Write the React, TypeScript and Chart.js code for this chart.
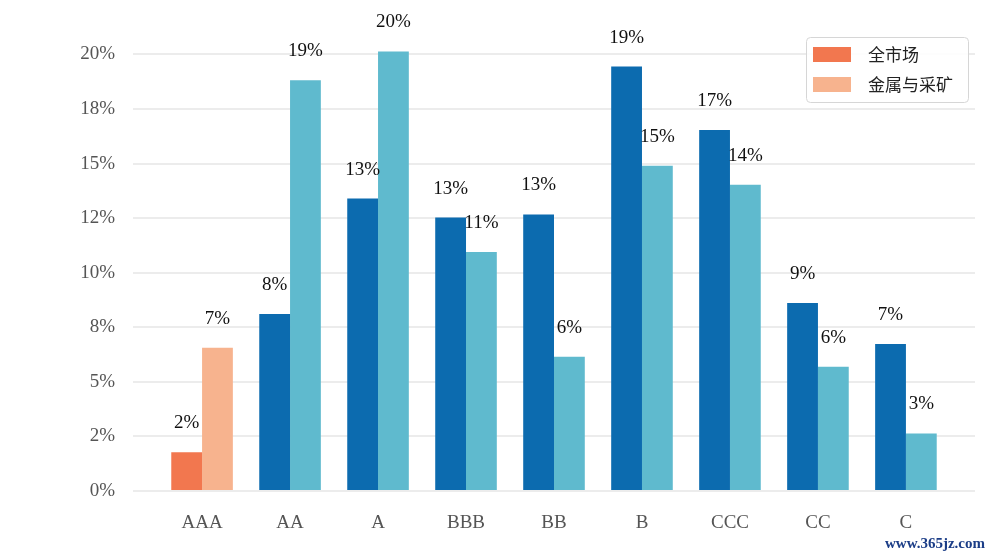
import React, { useEffect, useRef } from 'react';
import { Chart, registerables } from 'chart.js';

Chart.register(...registerables);

// Rating buckets and default rates (%) for the whole market vs. metals & mining
const categories = ['AAA', 'AA', 'A', 'BBB', 'BB', 'B', 'CCC', 'CC', 'C'];
const seriesNames = ['全市场', '金属与采矿'];
const marketValues = [1.78, 8.11, 13.4, 12.53, 12.67, 19.45, 16.54, 8.61, 6.74];
const miningValues = [6.56, 18.82, 20.14, 10.95, 6.15, 14.9, 14.03, 5.69, 2.64];
const yTickValues = [0, 2.5, 5, 7.5, 10, 12.5, 15, 17.5, 20];
const yTickLabels = ['0%', '2%', '5%', '8%', '10%', '12%', '15%', '18%', '20%'];
const watermark = 'www.365jz.com';

const MARKET_FIRST = '#f2774f';
const MARKET_REST = '#0c6baf';
const MINING_FIRST = '#f7b38e';
const MINING_REST = '#5fbace';
const SERIF = '"Liberation Serif", "Times New Roman", serif';
const CJK = '"Noto Sans CJK SC", "Noto Sans", sans-serif';

const colorsFor = (n: number, first: string, rest: string) =>
  Array.from({ length: n }, (_, i) => (i === 0 ? first : rest));

const valueLabels = {
  id: 'valueLabels',
  afterDatasetsDraw(chart: any) {
    const { ctx } = chart;
    ctx.save();
    ctx.font = `19px ${SERIF}`;
    ctx.fillStyle = '#111111';
    ctx.textAlign = 'center';
    ctx.textBaseline = 'alphabetic';
    chart.data.datasets.forEach((ds: any, di: number) => {
      const meta = chart.getDatasetMeta(di);
      meta.data.forEach((el: any, i: number) => {
        const v = ds.data[i].y;
        ctx.fillText(`${Math.round(v)}%`, el.x, el.y - 24);
      });
    });
    ctx.restore();
  },
};

const boxLegend = {
  id: 'boxLegend',
  afterDraw(chart: any) {
    const { ctx } = chart;
    const x = 806.5;
    const y = 37.5;
    const w = 162;
    const h = 65;
    ctx.save();
    ctx.beginPath();
    ctx.roundRect(x, y, w, h, 4);
    ctx.fillStyle = 'rgba(255,255,255,0.9)';
    ctx.fill();
    ctx.strokeStyle = '#d6d6d6';
    ctx.lineWidth = 1;
    ctx.stroke();
    ctx.font = `17px ${CJK}`;
    ctx.textBaseline = 'middle';
    ctx.textAlign = 'left';
    chart.data.datasets.forEach((ds: any, i: number) => {
      const rowY = 47 + i * 30;
      ctx.fillStyle = ds.backgroundColor[0];
      ctx.fillRect(813, rowY, 38, 15);
      ctx.fillStyle = '#222222';
      ctx.fillText(ds.label, 868, rowY + 8);
    });
    ctx.font = `bold 15px ${SERIF}`;
    ctx.fillStyle = '#1b3d87';
    ctx.textBaseline = 'alphabetic';
    ctx.fillText(watermark, 885, 548, 115);
    ctx.restore();
  },
};

export default function App() {
  const canvasRef = useRef<HTMLCanvasElement | null>(null);

  useEffect(() => {
    document.body.style.margin = '0';
    const canvas = canvasRef.current;
    if (!canvas) return;

    const chart = new Chart(canvas, {
      type: 'bar',
      data: {
        datasets: [
          {
            label: seriesNames[0],
            data: marketValues.map((v, i) => ({ x: i, y: v })),
            backgroundColor: colorsFor(marketValues.length, MARKET_FIRST, MARKET_REST),
            borderWidth: 0,
            barPercentage: 1,
            categoryPercentage: 0.7,
          },
          {
            label: seriesNames[1],
            data: miningValues.map((v, i) => ({ x: i, y: v })),
            backgroundColor: colorsFor(miningValues.length, MINING_FIRST, MINING_REST),
            borderWidth: 0,
            barPercentage: 1,
            categoryPercentage: 0.7,
          },
        ],
      },
      options: {
        responsive: false,
        animation: false,
        layout: { padding: { left: 0, right: 32, top: 27, bottom: 0 } },
        plugins: {
          legend: { display: false },
          tooltip: { enabled: false },
        },
        scales: {
          x: {
            type: 'linear',
            offset: false,
            min: -0.785,
            max: 8.785,
            grid: { display: false, drawTicks: false },
            border: { display: false },
            afterBuildTicks: (scale: any) => {
              scale.ticks = categories.map((_, i) => ({ value: i }));
            },
            afterFit: (scale: any) => {
              scale.height = 67;
            },
            ticks: {
              autoSkip: false,
              maxRotation: 0,
              padding: 21,
              color: '#555555',
              font: { family: SERIF, size: 19 },
              callback: (v: any) => categories[Math.round(Number(v))] ?? '',
            },
          },
          y: {
            min: 0,
            max: 21.15,
            grid: { color: '#ececec', lineWidth: 2, drawTicks: false },
            border: { display: false },
            afterBuildTicks: (scale: any) => {
              scale.ticks = yTickValues.map((v) => ({ value: v }));
            },
            afterFit: (scale: any) => {
              scale.width = 133;
            },
            ticks: {
              padding: 18,
              color: '#555555',
              font: { family: SERIF, size: 19 },
              callback: (v: any) => {
                const idx = yTickValues.indexOf(Number(v));
                return idx >= 0 ? yTickLabels[idx] : '';
              },
            },
          },
        },
      },
      plugins: [valueLabels, boxLegend],
    });

    return () => chart.destroy();
  }, []);

  return (
    <div style={{ width: 1007, height: 558 }}>
      <canvas ref={canvasRef} width={1007} height={558} style={{ display: 'block' }} />
    </div>
  );
}
